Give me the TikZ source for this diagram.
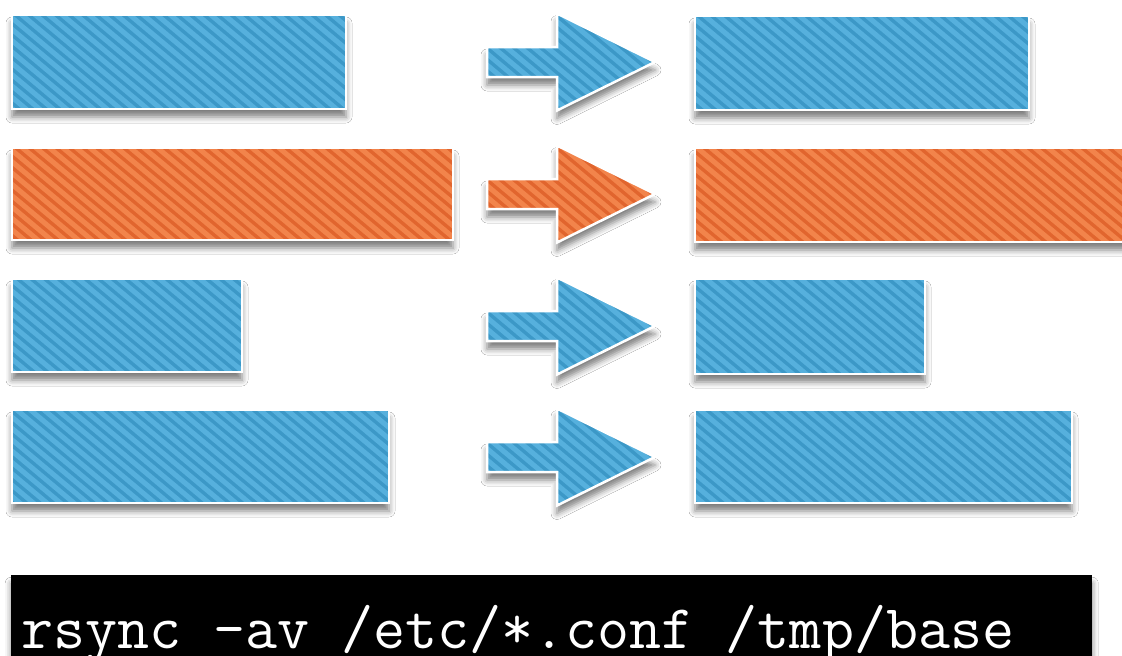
\documentclass[tikz,border=0pt]{standalone}
\usepackage{fontspec}
\usetikzlibrary{shadows.blur}
\definecolor{bluebase}{HTML}{3C98C7}
\definecolor{bluestripe}{HTML}{56B0DD}
\definecolor{orbase}{HTML}{E1652E}
\definecolor{orstripe}{HTML}{F2844B}
\tikzset{
  stripes/.style={path picture={
    \foreach \i in {-560,-546.5,...,560}
      \draw[#1, line width=5pt] ([xshift=\i pt]path picture bounding box.center) ++(-230pt,193pt) -- ++(460pt,-386pt);}},
  shadowed/.style={blur shadow={shadow xshift=0pt, shadow yshift=-8pt, shadow blur radius=6pt, shadow opacity=50}},
  box/.style={draw=white, line width=2.5pt, shadowed, inner sep=0pt},
  bluebox/.style={box, fill=bluebase, stripes=bluestripe},
  orbox/.style={box, fill=orbase, stripes=orstripe},
  arrowpath/.style={draw=white, line width=2.5pt, line join=miter, shadowed},
}
\newcommand{\fatarrow}[3]{%
  \path[arrowpath, fill=#3base, stripes=#3stripe] (487,#2) coordinate (#1)
    ++(0,-15) -- ++(70,0) -- ++(0,-33.5) -- ++(98,48.5) -- ++(-98,48.5)
    -- ++(0,-33.5) -- ++(-70,0) -- cycle;}
\begin{document}
\begin{tikzpicture}[x=1pt, y=-1pt]
\useasboundingbox (0,0) rectangle (1122,656);
\clip (0,0) rectangle (1122,656);
\fill[white] (0,0) rectangle (1122,656);
% left column
\node[bluebox, minimum width=334pt, minimum height=94pt] (l1) at (179,62) {};
\node[orbox,   minimum width=441pt, minimum height=92pt] (l2) at (232.5,194) {};
\node[bluebox, minimum width=230pt, minimum height=93pt] (l3) at (127,325.5) {};
\node[bluebox, minimum width=377pt, minimum height=93pt] (l4) at (200.5,456.5) {};
% arrows
\fatarrow{a1}{62}{blue}
\fatarrow{a2}{194}{or}
\fatarrow{a3}{326}{blue}
\fatarrow{a4}{457}{blue}
% right column
\node[bluebox, minimum width=334pt, minimum height=94pt] (r1) at (862,63) {};
\node[orbox,   minimum width=454pt, minimum height=94pt] (r2) at (922,195) {};
\node[bluebox, minimum width=230pt, minimum height=95pt] (r3) at (810,326.5) {};
\node[bluebox, minimum width=377pt, minimum height=93pt] (r4) at (883.5,456.5) {};
% command bar
\node[fill=black, shadowed, minimum width=1081pt, minimum height=100pt, anchor=north west, inner sep=0pt] (bar) at (11,575) {};
\node[anchor=base west, inner sep=0pt, text=white, font=\ttfamily\fontsize{62.2}{66}\selectfont] (cmd) at (21,648) {rsync -av /etc/*.conf /tmp/base};
\end{tikzpicture}
\end{document}
